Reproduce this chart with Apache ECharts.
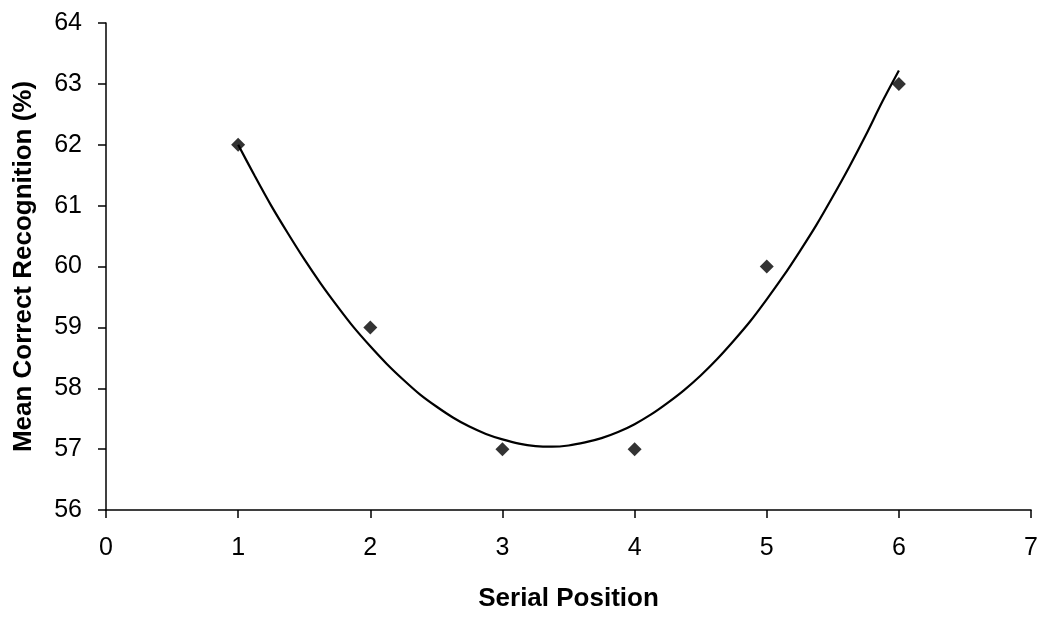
<!DOCTYPE html>
<html>
<head>
<meta charset="utf-8">
<script src="https://cdn.jsdelivr.net/npm/echarts@6/dist/echarts.min.js"></script>
<style>
  html, body { margin: 0; padding: 0; background: #fff; }
  #chart { width: 1041px; height: 617px; }
</style>
</head>
<body>
<div id="chart"></div>
<script>
// Mean correct recognition by serial position
const positions = [1, 2, 3, 4, 5, 6];
const recognition = [62, 59, 57, 57, 60, 63];

// Polynomial (2nd order) trend line, sampled along the x axis
const trendX = [1, 1.125, 1.25, 1.375, 1.5, 1.625, 1.75, 1.875, 2, 2.125, 2.25, 2.375, 2.5, 2.625, 2.75, 2.875,
  3, 3.125, 3.25, 3.375, 3.5, 3.625, 3.75, 3.875, 4, 4.125, 4.25, 4.375, 4.5, 4.625, 4.75, 4.875,
  5, 5.125, 5.25, 5.375, 5.5, 5.625, 5.75, 5.875, 6];
const trendY = [62.0, 61.49, 61.0, 60.55, 60.12, 59.72, 59.35, 59.0, 58.69, 58.4, 58.14, 57.9, 57.7, 57.52, 57.37, 57.25,
  57.16, 57.09, 57.05, 57.04, 57.06, 57.11, 57.18, 57.28, 57.41, 57.57, 57.76, 57.97, 58.21, 58.48, 58.78, 59.1,
  59.46, 59.84, 60.25, 60.68, 61.15, 61.64, 62.16, 62.71, 63.22];

const xTicks = [0, 1, 2, 3, 4, 5, 6, 7];
const yTicks = [56, 57, 58, 59, 60, 61, 62, 63, 64];

const font = 'Liberation Sans, Arial, Helvetica, sans-serif';
const chart = echarts.init(document.getElementById('chart'), null, { renderer: 'canvas' });

const axisCommon = {
  axisLine: { show: true, lineStyle: { color: '#000', width: 1.5 } },
  axisTick: { show: true, inside: false, length: 8, lineStyle: { color: '#000', width: 1.5 } },
  splitLine: { show: false },
  axisLabel: { color: '#000', fontFamily: font, fontSize: 25 },
  nameTextStyle: { color: '#000', fontFamily: font, fontSize: 26, fontWeight: 'bold' }
};

chart.setOption({
  animation: false,
  backgroundColor: '#fff',
  grid: { left: 106, right: 8, top: 23, bottom: 102, containLabel: false },
  xAxis: Object.assign({}, axisCommon, {
    type: 'value',
    min: xTicks[0],
    max: xTicks[xTicks.length - 1],
    interval: 1,
    name: 'Serial Position',
    nameLocation: 'middle',
    nameGap: 76,
    axisLabel: Object.assign({}, axisCommon.axisLabel, { margin: 26 })
  }),
  yAxis: Object.assign({}, axisCommon, {
    type: 'value',
    min: yTicks[0],
    max: yTicks[yTicks.length - 1],
    interval: 1,
    name: 'Mean Correct Recognition (%)',
    nameLocation: 'middle',
    nameGap: 69,
    axisLabel: Object.assign({}, axisCommon.axisLabel, { margin: 24 })
  }),
  series: [
    {
      type: 'line',
      data: trendX.map((x, i) => [x, trendY[i]]),
      smooth: 0.3,
      symbol: 'none',
      lineStyle: { color: '#000', width: 2.2 },
      z: 2
    },
    {
      type: 'scatter',
      data: positions.map((x, i) => [x, recognition[i]]),
      symbol: 'diamond',
      symbolSize: [14, 14],
      itemStyle: { color: '#000' },
      z: 3
    }
  ]
});
</script>
</body>
</html>
